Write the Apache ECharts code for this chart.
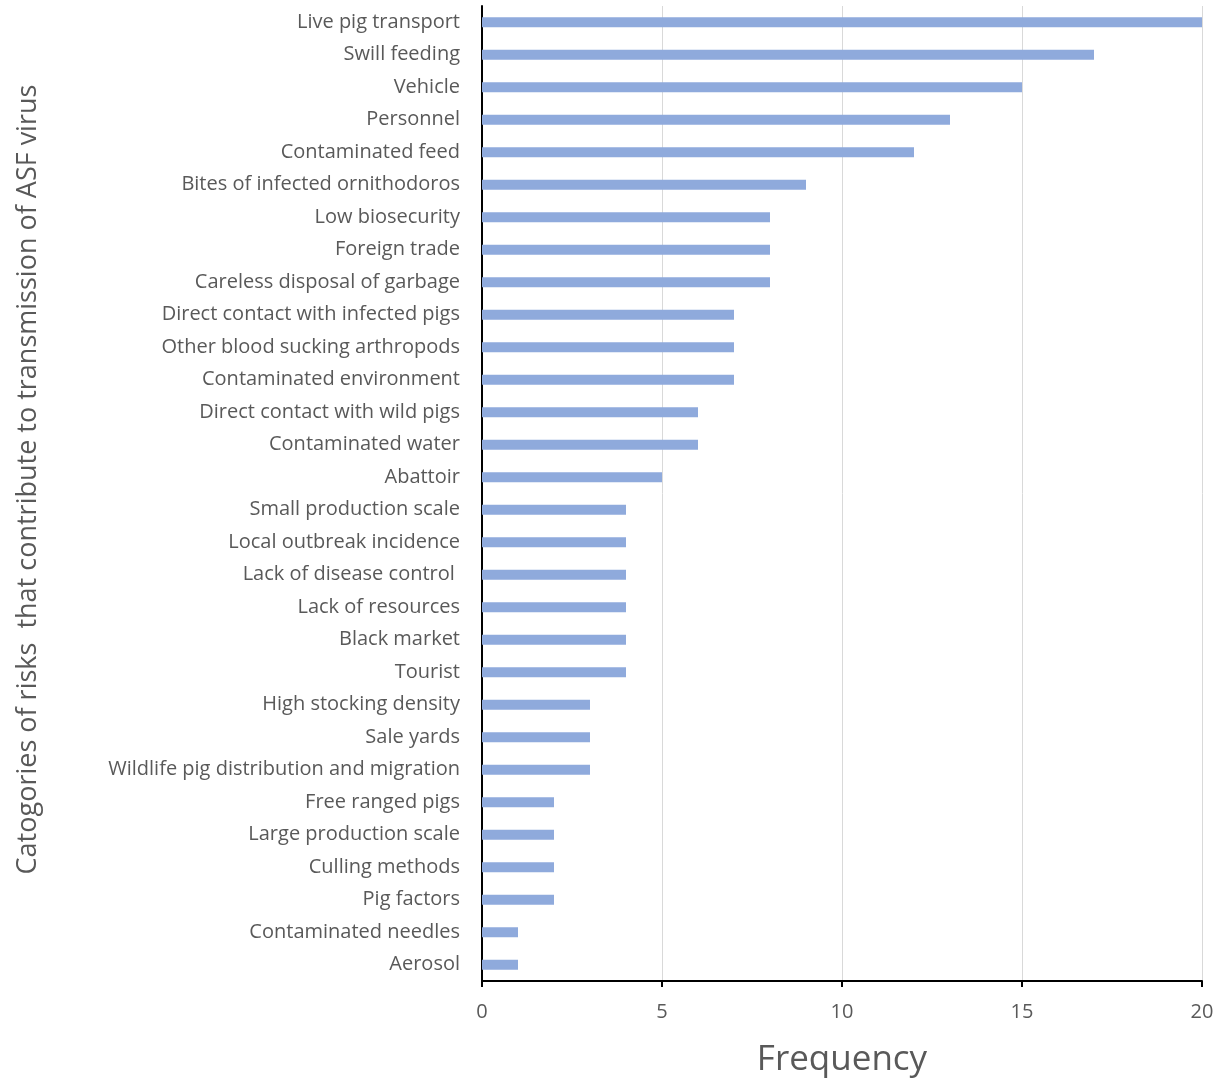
<!DOCTYPE html>
<html><head><meta charset="utf-8">
<script src="https://cdn.jsdelivr.net/npm/echarts@6/dist/echarts.min.js"></script>
<style>html,body{margin:0;padding:0;background:#fff}#c{width:1222px;height:1079px}</style>
</head><body><div id="c"></div>
<script>
const categories = ["Live pig transport","Swill feeding","Vehicle","Personnel","Contaminated feed","Bites of infected ornithodoros","Low biosecurity","Foreign trade","Careless disposal of garbage","Direct contact with infected pigs","Other blood sucking arthropods","Contaminated environment","Direct contact with wild pigs","Contaminated water","Abattoir","Small production scale","Local outbreak incidence","Lack of disease control ","Lack of resources","Black market","Tourist","High stocking density","Sale yards","Wildlife pig distribution and migration","Free ranged pigs","Large production scale","Culling methods","Pig factors","Contaminated needles","Aerosol"];
const frequency = [20,17,15,13,12,9,8,8,8,7,7,7,6,6,5,4,4,4,4,4,4,3,3,3,2,2,2,2,1,1];
const xTicks = [0,5,10,15,20];
const chart = echarts.init(document.getElementById('c'));
const font = '"Open Sans", "Noto Sans", sans-serif';
chart.setOption({
  animation:false,
  grid:{left:482,right:20,top:6,bottom:98,containLabel:false,outerBoundsMode:'none'},
  xAxis:{type:'value',min:xTicks[0],max:xTicks[xTicks.length-1],interval:5,
    name:'Frequency',nameLocation:'middle',nameGap:62,
    nameTextStyle:{fontSize:35,color:'#595959',fontFamily:font},
    axisLine:{show:true,lineStyle:{color:'#000',width:2}},
    axisTick:{show:true,length:6,lineStyle:{color:'#000',width:2}},
    axisLabel:{fontSize:20,color:'#595959',fontFamily:font,margin:21},
    splitLine:{show:true,lineStyle:{color:'#d9d9d9',width:1}}},
  yAxis:{type:'category',data:categories,inverse:true,
    name:'Catogories of risks  that contribute to transmission of ASF virus',
    nameLocation:'middle',nameGap:440,nameRotate:90,
    nameTextStyle:{fontSize:27,color:'#595959',fontFamily:font,padding:[0,0,0,28]},
    axisLine:{show:true,lineStyle:{color:'#000',width:2}},
    axisTick:{show:false},
    axisLabel:{fontSize:20,color:'#595959',fontFamily:font,margin:22},
    splitLine:{show:false}},
  series:[{type:'bar',data:frequency,barWidth:10,itemStyle:{color:'#8faadc'}}]
});
</script></body></html>
